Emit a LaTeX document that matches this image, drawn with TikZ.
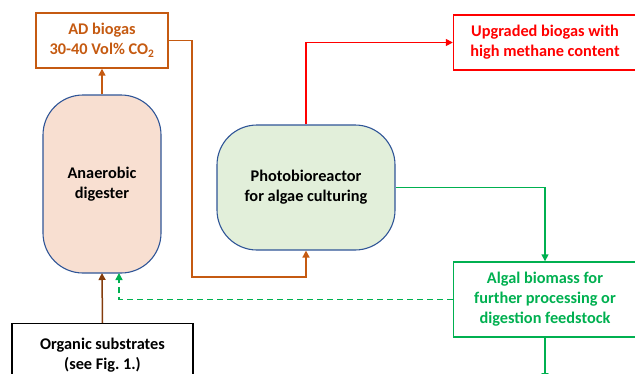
\documentclass[tikz,border=0pt]{standalone}
\usepackage{fontspec}
\setmainfont{Carlito}
\frenchspacing
\usetikzlibrary{arrows.meta,positioning}
\definecolor{adorange}{HTML}{C55A11}
\definecolor{upred}{HTML}{FF0000}
\definecolor{alggreen}{HTML}{00B050}
\definecolor{tankblue}{HTML}{2F5597}
\definecolor{peach}{HTML}{F8DFD1}
\definecolor{palegreen}{HTML}{E2EFDA}
\definecolor{subbrown}{HTML}{843C0C}
\tikzset{
  x=1pt,y=-1pt,
  lbl/.style={font=\fontsize{16.3}{20}\selectfont\bfseries, align=center},
  flowbox/.style={lbl, draw, line width=1.4pt, inner sep=0pt},
  tank/.style={lbl, draw=tankblue, line width=1.1pt, rounded corners=40pt, inner sep=0pt},
  tip/.style={-{Triangle[length=7pt,width=7pt]}},
  flow/.style={tip, line width=1.5pt},
}
\begin{document}
\begin{tikzpicture}
\useasboundingbox (0,0) rectangle (635,373);
\clip (0,0) rectangle (635,373);

% boxes
\node[flowbox, draw=adorange, text=adorange, minimum width=132pt, minimum height=55pt]
  (ad) at (102,40.5) {AD biogas\\30-40 Vol\% CO\textsubscript{2}};
\node[tank, fill=peach, minimum width=118pt, minimum height=178pt]
  (dig) at (102,184) {Anaerobic\\digester};
\node[tank, fill=palegreen, minimum width=178pt, minimum height=125pt]
  (pbr) at (306,187.5) {Photobioreactor\\for algae culturing};
\node[flowbox, draw=upred, text=upred, minimum width=183pt, minimum height=55pt]
  (up) at (545,42.5) {Upgraded biogas with\\high methane content};
\node[flowbox, draw=alggreen, text=alggreen, minimum width=183pt, minimum height=75pt]
  (alg) at (545,299.5) {Algal biomass for\\further processing or\\digestion feedstock};
\node[flowbox, draw=black, text=black, minimum width=181pt, minimum height=62pt, anchor=north]
  (org) at (102.5,323) {Organic substrates\\(see Fig. 1.)};

\coordinate (algout) at (545,380);

% connectors
\draw[flow, draw=adorange] (dig.north) -- (ad.south);
\draw[flow, draw=adorange] (ad.east) -| (192,277) -| (pbr.south);
\draw[flow, draw=upred] (pbr.north) |- (up.west);
\draw[flow, draw=alggreen] (pbr.east) -| (alg.north);
\draw[flow, draw=alggreen] (alg.south) -- (algout);
\draw[flow, draw=alggreen, dash pattern=on 6pt off 4pt] (alg.west) -| (119,273);
\draw[flow, draw=subbrown] (org.north) -- (102,273);
\end{tikzpicture}
\end{document}
